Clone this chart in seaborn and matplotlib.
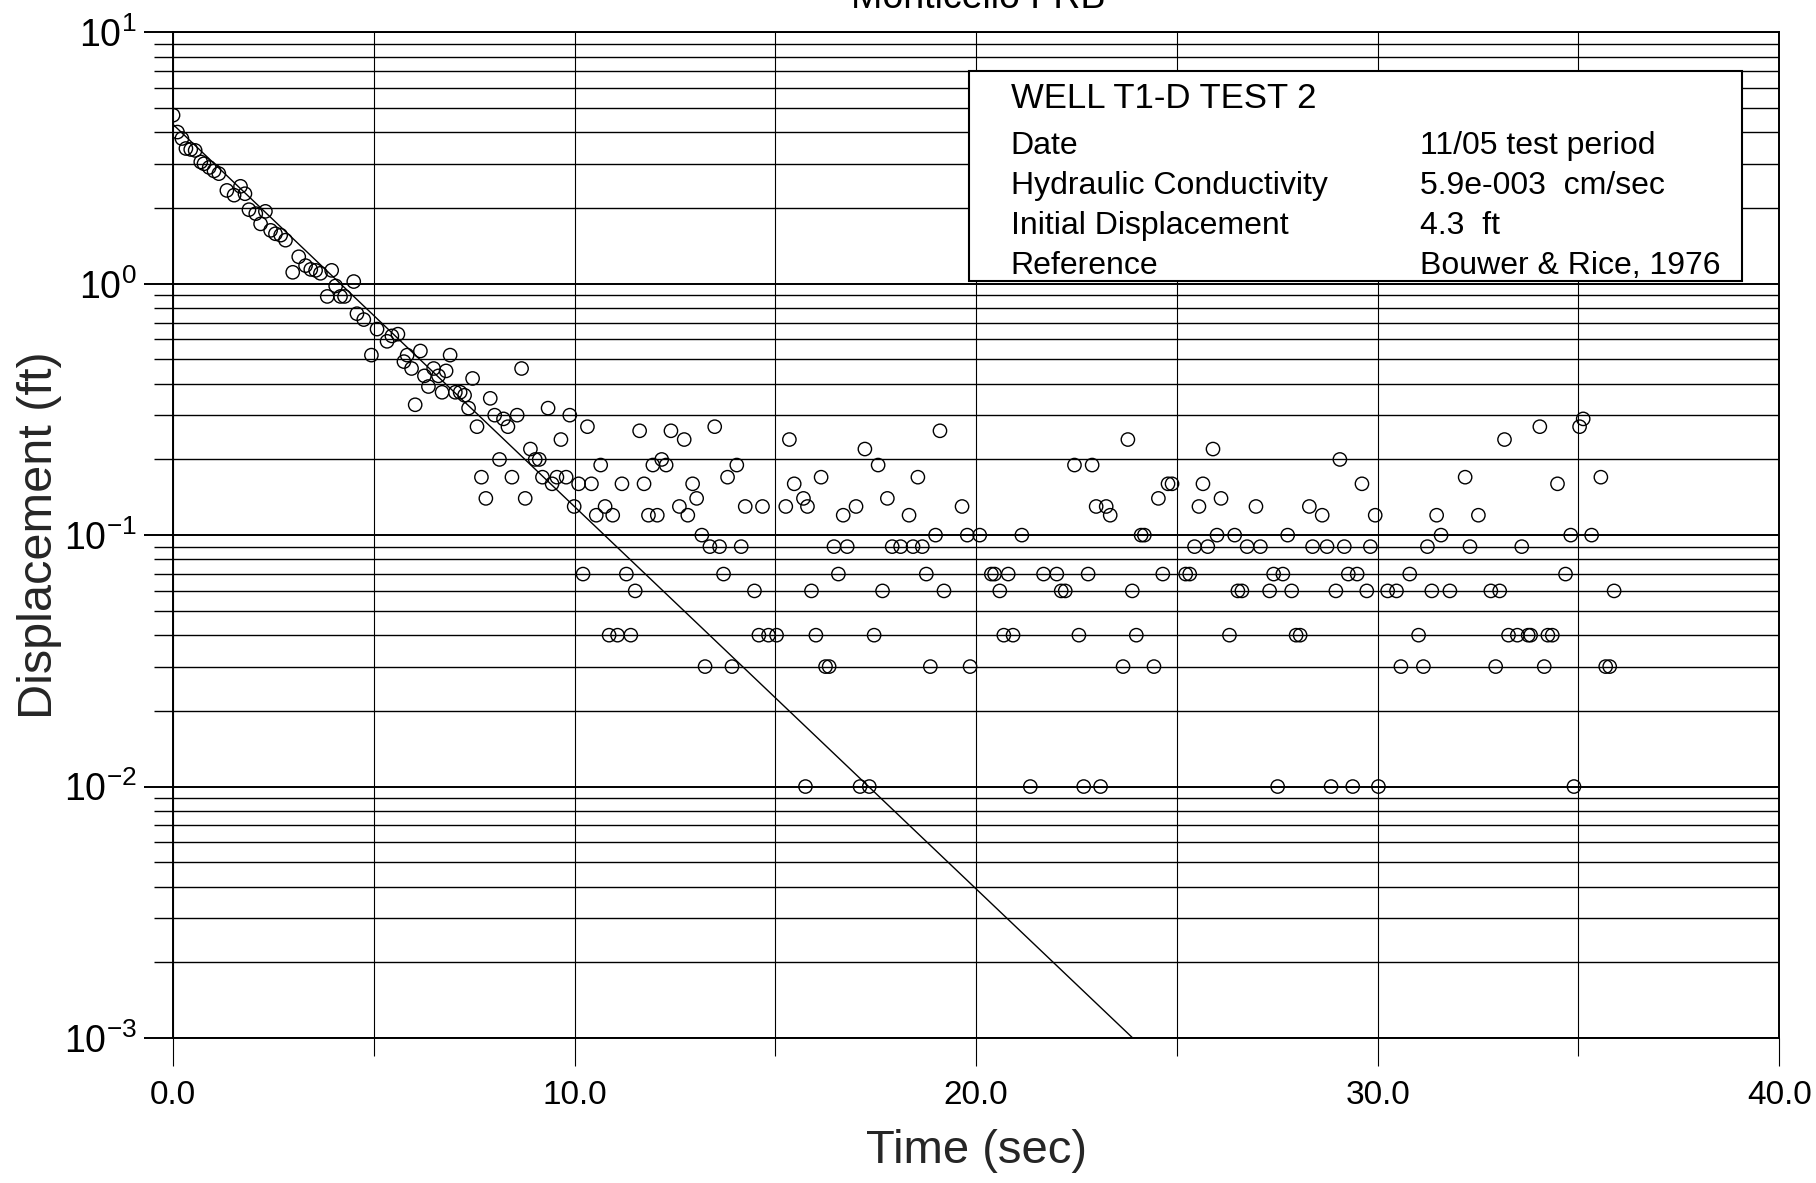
import numpy as np
import pandas as pd
import matplotlib
matplotlib.use("Agg")
import matplotlib.pyplot as plt
import seaborn as sns
from matplotlib.ticker import FixedLocator, FuncFormatter, NullFormatter, LogLocator
from matplotlib.patches import Rectangle

# ---------------- data ----------------
time_early = [0.00, 0.11, 0.22, 0.32, 0.44, 0.55, 0.69, 0.77, 0.90, 1.02, 1.14, 1.34, 1.52, 1.68,
              1.79, 1.89, 2.06, 2.18, 2.30, 2.43, 2.55, 2.68, 2.80, 2.98, 3.13, 3.30, 3.43, 3.55,
              3.67, 3.84, 3.95, 4.05, 4.17, 4.27, 4.50, 4.58, 4.75, 4.94, 5.08, 5.33, 5.45, 5.60,
              5.75, 5.83, 5.94, 6.03, 6.16, 6.26, 6.36, 6.49, 6.61, 6.70, 6.80, 6.90, 7.03, 7.15,
              7.26, 7.36, 7.46, 8.68]
disp_early = [4.68, 4.01, 3.78, 3.45, 3.42, 3.39, 3.05, 3.00, 2.90, 2.81, 2.74, 2.35, 2.25, 2.44,
              2.28, 1.97, 1.90, 1.73, 1.94, 1.63, 1.58, 1.56, 1.49, 1.11, 1.28, 1.18, 1.14, 1.13,
              1.10, 0.89, 1.13, 0.98, 0.89, 0.89, 1.02, 0.76, 0.72, 0.52, 0.66, 0.59, 0.62, 0.63,
              0.49, 0.52, 0.46, 0.33, 0.54, 0.43, 0.39, 0.46, 0.43, 0.37, 0.45, 0.52, 0.37, 0.37,
              0.36, 0.32, 0.42, 0.46]

time_a = [7.57, 7.90, 8.01, 8.23, 8.34, 8.57, 9.34, 9.88, 8.13, 8.90, 9.02, 9.12, 9.66, 10.32,
          11.62, 12.40, 12.73, 13.49, 15.35, 17.23, 17.56, 17.79, 7.68, 7.79, 8.44, 8.77, 9.20,
          9.44, 9.56, 9.79, 9.99, 10.10, 10.42, 10.65, 10.54, 10.76, 10.95, 11.18, 11.73, 11.84,
          12.06, 11.95, 12.17, 12.28, 12.61, 12.82, 12.94, 13.04, 13.17, 13.37, 13.61, 14.15,
          13.81, 14.04, 14.25, 14.68, 15.26, 15.47, 15.70, 15.80, 16.14, 16.69, 17.01, 16.46,
          16.79, 17.91, 10.21, 11.29, 11.51, 13.71, 14.48, 15.90, 16.57, 17.67, 10.86, 11.07,
          11.40, 14.59, 14.83, 15.03, 16.01, 17.46, 13.25, 13.92, 16.25, 16.34, 15.75, 17.11, 17.34]
disp_a = [0.27, 0.35, 0.30, 0.29, 0.27, 0.30, 0.32, 0.30, 0.20, 0.22, 0.20, 0.20, 0.24, 0.27,
          0.26, 0.26, 0.24, 0.27, 0.24, 0.22, 0.19, 0.14, 0.17, 0.14, 0.17, 0.14, 0.17,
          0.16, 0.17, 0.17, 0.13, 0.16, 0.16, 0.19, 0.12, 0.13, 0.12, 0.16, 0.16, 0.12,
          0.12, 0.19, 0.20, 0.19, 0.13, 0.12, 0.16, 0.14, 0.10, 0.09, 0.09, 0.09,
          0.17, 0.19, 0.13, 0.13, 0.13, 0.16, 0.14, 0.13, 0.17, 0.12, 0.13, 0.09,
          0.09, 0.09, 0.07, 0.07, 0.06, 0.07, 0.06, 0.06, 0.07, 0.06, 0.04, 0.04,
          0.04, 0.04, 0.04, 0.04, 0.04, 0.04, 0.03, 0.03, 0.03, 0.03, 0.01, 0.01, 0.01]

time_b = [19.10, 18.55, 18.33, 19.65, 23.78, 25.90, 22.45, 22.89, 24.78, 24.88, 24.54, 25.65,
          26.10, 25.55, 26.97, 28.30, 22.99, 23.24, 23.34, 18.99, 19.78, 20.09, 21.14, 24.11,
          24.19, 26.00, 26.44, 27.76, 18.12, 18.43, 18.66, 25.44, 25.77, 26.75, 27.08, 28.38,
          18.76, 20.38, 20.46, 20.80, 21.68, 22.01, 22.79, 24.65, 25.22, 25.32, 27.41, 27.64,
          19.20, 20.59, 22.12, 22.22, 23.89, 26.52, 26.62, 27.31, 27.86, 20.69, 20.92, 22.56,
          23.99, 26.31, 27.97, 28.07, 18.86, 19.85, 23.66, 24.43, 21.35, 22.68, 23.10, 27.51]
disp_b = [0.26, 0.17, 0.12, 0.13, 0.24, 0.22, 0.19, 0.19, 0.16, 0.16, 0.14, 0.16,
          0.14, 0.13, 0.13, 0.13, 0.13, 0.13, 0.12, 0.10, 0.10, 0.10, 0.10, 0.10,
          0.10, 0.10, 0.10, 0.10, 0.09, 0.09, 0.09, 0.09, 0.09, 0.09, 0.09, 0.09,
          0.07, 0.07, 0.07, 0.07, 0.07, 0.07, 0.07, 0.07, 0.07, 0.07, 0.07, 0.07,
          0.06, 0.06, 0.06, 0.06, 0.06, 0.06, 0.06, 0.06, 0.06, 0.04, 0.04, 0.04,
          0.04, 0.04, 0.04, 0.04, 0.03, 0.03, 0.03, 0.03, 0.01, 0.01, 0.01, 0.01]

time_c = [35.12, 35.03, 34.04, 33.16, 29.06, 29.61, 32.18, 34.48, 35.56, 28.62, 29.94, 31.47,
          32.51, 31.58, 34.81, 35.33, 28.74, 29.17, 29.82, 31.24, 32.30, 33.59, 29.27, 29.49,
          30.80, 34.68, 28.96, 29.73, 30.25, 30.47, 31.35, 31.80, 32.82, 33.04, 35.89, 31.02,
          33.26, 33.48, 33.75, 33.81, 34.24, 34.35, 30.58, 31.14, 32.94, 34.15, 35.68, 35.78,
          28.84, 29.38, 30.02, 34.89]
disp_c = [0.29, 0.27, 0.27, 0.24, 0.20, 0.16, 0.17, 0.16, 0.17, 0.12, 0.12, 0.12,
          0.12, 0.10, 0.10, 0.10, 0.09, 0.09, 0.09, 0.09, 0.09, 0.09, 0.07, 0.07,
          0.07, 0.07, 0.06, 0.06, 0.06, 0.06, 0.06, 0.06, 0.06, 0.06, 0.06, 0.04,
          0.04, 0.04, 0.04, 0.04, 0.04, 0.04, 0.03, 0.03, 0.03, 0.03, 0.03, 0.03,
          0.01, 0.01, 0.01, 0.01]

fit_time = [0.0, 23.9]
fit_disp = [4.3, 0.001]

x_major_ticks = [0, 10, 20, 30, 40]
x_minor_ticks = [5, 15, 25, 35]
x_tick_labels = ["0.0", "10.0", "20.0", "30.0", "40.0"]

chart_title = "Monticello FRB"
box_title = "WELL T1-D TEST 2"
box_keys = ["Date", "Hydraulic Conductivity", "Initial Displacement", "Reference"]
box_values = ["11/05 test period", "5.9e-003  cm/sec", "4.3  ft", "Bouwer & Rice, 1976"]

# ---------------- style ----------------
sns.set_theme(style="white")
plt.rcParams["font.family"] = ["Liberation Sans", "DejaVu Sans"]
plt.rcParams["mathtext.fontset"] = "custom"
plt.rcParams["mathtext.rm"] = "Liberation Sans"
plt.rcParams["mathtext.it"] = "Liberation Sans:italic"
plt.rcParams["mathtext.bf"] = "Liberation Sans:bold"
plt.rcParams["text.color"] = "black"

df = pd.DataFrame({
    "time": time_early + time_a + time_b + time_c,
    "disp": disp_early + disp_a + disp_b + disp_c,
})
fit = pd.DataFrame({"time": fit_time, "disp": fit_disp})

fig = plt.figure(figsize=(18.16, 11.83), dpi=100)
ax = fig.add_axes([0.0953, 0.1226, 0.8844, 0.8501])
ax.set_yscale("log")
ax.set_xlim(0, 40)
ax.set_ylim(1e-3, 1e1)

sns.lineplot(data=fit, x="time", y="disp", ax=ax, color="black", linewidth=1.0,
             estimator=None, zorder=3)
sns.scatterplot(data=df, x="time", y="disp", ax=ax, marker="o", s=92,
                facecolor="none", edgecolor="black", linewidth=1.0, zorder=4)

# axes / ticks
ax.xaxis.set_major_locator(FixedLocator(x_major_ticks))
ax.xaxis.set_minor_locator(FixedLocator(x_minor_ticks))
ax.set_xticklabels(x_tick_labels)
ax.yaxis.set_major_locator(LogLocator(base=10, numticks=10))
ax.yaxis.set_minor_locator(LogLocator(base=10, subs=np.arange(2, 10), numticks=20))
ax.yaxis.set_major_formatter(FuncFormatter(
    lambda v, _: r"$\mathregular{10^{%d}}$" % int(round(np.log10(v)))))
ax.yaxis.set_minor_formatter(NullFormatter())

ax.tick_params(axis="both", which="both", bottom=True, left=True, top=False, right=False,
               direction="out", color="black", labelcolor="black")
ax.tick_params(axis="y", which="major", length=21, width=1.4, labelsize=27, pad=5)
ax.tick_params(axis="y", which="minor", length=14, width=1.0)
ax.tick_params(axis="x", which="major", length=20, width=0.8, labelsize=24, pad=10)
ax.tick_params(axis="x", which="minor", length=13, width=0.8)

ax.grid(which="major", axis="y", color="black", linewidth=1.4)
ax.grid(which="minor", axis="y", color="black", linewidth=1.0)
ax.grid(which="both", axis="x", color="black", linewidth=0.8)
ax.set_axisbelow(True)

for side, sp in ax.spines.items():
    sp.set_visible(True)
    sp.set_color("black")
    sp.set_linewidth(1.4)

ax.set_xlabel("Time (sec)", fontsize=34, va="center")
ax.xaxis.set_label_coords(0.5, -0.112)
ax.set_ylabel("Displacement (ft)", fontsize=35, va="center")
ax.yaxis.set_label_coords(-0.083, 0.5)

# info box
ax.add_patch(Rectangle((0.4956, 0.7528), 0.977 - 0.4956, 0.9616 - 0.7528,
                       transform=ax.transAxes, facecolor="white", edgecolor="black",
                       linewidth=1.5, zorder=5))
ax.text(0.5215, 0.9248, box_title, transform=ax.transAxes, fontsize=25,
        ha="left", va="baseline", zorder=6)
row_y = [0.879, 0.8393, 0.7995, 0.7598]
for yy, k, v in zip(row_y, box_keys, box_values):
    ax.text(0.5215, yy, k, transform=ax.transAxes, fontsize=23, ha="left", va="baseline", zorder=6)
    ax.text(0.7765, yy, v, transform=ax.transAxes, fontsize=23, ha="left", va="baseline", zorder=6)

fig.text(0.5385, 0.993, chart_title, ha="center", va="baseline", fontsize=27)

fig.savefig("out.png", dpi=100, facecolor="white")
